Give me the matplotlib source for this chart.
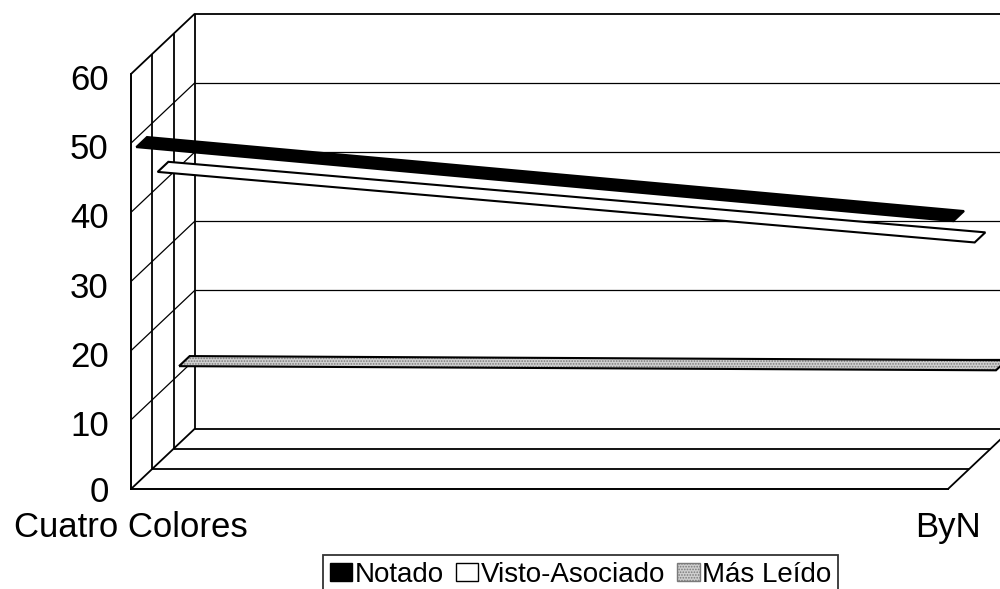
import matplotlib
matplotlib.use("Agg")
import matplotlib.pyplot as plt
from matplotlib.patches import Patch, Polygon
from matplotlib.transforms import ScaledTranslation

plt.rcParams['font.family'] = ['Liberation Sans', 'DejaVu Sans']
plt.rcParams['hatch.linewidth'] = 0.8

categories = ["Cuatro Colores", "ByN"]
series_names = ["Notado", "Visto-Asociado", "Más Leído"]
notado = [48.7, 38.0]
visto_asociado = [42.2, 32.0]
mas_leido = [11.2, 10.6]
y_ticks = [0, 10, 20, 30, 40, 50, 60]

series_values = [notado, visto_asociado, mas_leido]
face_colors = ["black", "white", "#cfcfcf"]
hatches = [None, None, "......"]

fig = plt.figure(figsize=(10.0, 5.89), dpi=100)
ax = fig.add_axes([131 / 1000, 100 / 589, 817 / 1000, 415 / 589])
ax.set_xlim(0, 1)
ax.set_ylim(0, 60)

# oblique depth direction, expressed in data units per unit of depth
DX = 64 / 817
DY = 60.5 * 60 / 415


def P(c, v, d):
    return c + d * DX, v + d * DY


def seg(p, q, lw=1.3):
    ax.plot([p[0], q[0]], [p[1], q[1]], color="black", lw=lw,
            clip_on=False, solid_capstyle="butt", zorder=1)


n_slots = len(series_values)
vmax = y_ticks[-1]

# left wall
seg(P(0, vmax, 0), P(0, vmax, 1))
seg(P(0, 0, 0), P(0, 0, 1))
for k in range(1, n_slots):
    d = k / n_slots
    seg(P(0, 0, d), P(0, vmax, d))
for v in y_ticks[1:-1]:
    seg(P(0, v, 0), P(0, v, 1), lw=0.9)

# back wall
seg(P(0, 0, 1), P(0, vmax, 1))
seg(P(0, vmax, 1), P(1, vmax, 1))
seg(P(1, 0, 1), P(1, vmax, 1))
for v in y_ticks[1:-1]:
    seg(P(0, v, 1), P(1, v, 1), lw=0.9)

# floor
seg(P(0, 0, 1), P(1, 0, 1))
for k in range(1, n_slots):
    d = k / n_slots
    seg(P(0, 0, d), P(1, 0, d))
seg(P(1, 0, 0), P(1, 0, 1))

# ribbons, back to front
for s in reversed(range(n_slots)):
    v0, v1 = series_values[s]
    da = (s + 0.25) / n_slots
    db = (s + 0.75) / n_slots
    pts = [P(0, v0, da), P(1, v1, da), P(1, v1, db), P(0, v0, db)]
    z = 3 + 2 * (n_slots - s)
    if hatches[s]:
        ax.add_patch(Polygon(pts, closed=True, facecolor=face_colors[s],
                             edgecolor="#7a7a7a", hatch=hatches[s], lw=0,
                             clip_on=False, zorder=z))
        ax.add_patch(Polygon(pts, closed=True, facecolor="none",
                             edgecolor="black", lw=1.5, clip_on=False,
                             joinstyle="miter", zorder=z + 1))
    else:
        ax.add_patch(Polygon(pts, closed=True, facecolor=face_colors[s],
                             edgecolor="black", lw=1.5, clip_on=False,
                             joinstyle="miter", zorder=z))

for side in ["top", "right"]:
    ax.spines[side].set_visible(False)
for side in ["left", "bottom"]:
    ax.spines[side].set_linewidth(1.4)
    ax.spines[side].set_zorder(20)

ax.set_yticks(y_ticks)
ax.set_yticklabels([str(t) for t in y_ticks], fontsize=25)
ax.set_xticks([0, 1])
ax.set_xticklabels(categories, fontsize=25)
ax.tick_params(axis="y", length=0, pad=16)
ax.tick_params(axis="x", length=0, pad=15.5)
ax.patch.set_visible(False)
shift = ScaledTranslation(0, -3 / 100, fig.dpi_scale_trans)
for lab in ax.get_yticklabels()[1:]:
    lab.set_transform(lab.get_transform() + shift)

handles = [Patch(facecolor=fc, edgecolor="#7a7a7a" if h else "black",
                 hatch=h, lw=1.0) for fc, h in zip(face_colors, hatches)]
leg = fig.legend(handles, series_names, loc="upper left",
                 bbox_to_anchor=(323 / 1000, 1 - 555 / 589), ncol=3,
                 fontsize=20, frameon=True, fancybox=False, shadow=False,
                 handlelength=0.8, handleheight=0.65, handletextpad=0.08,
                 columnspacing=0.45, borderpad=0.25, borderaxespad=0)
leg.get_frame().set_edgecolor("black")
leg.get_frame().set_linewidth(1.3)

fig.savefig("out.png", dpi=100)
